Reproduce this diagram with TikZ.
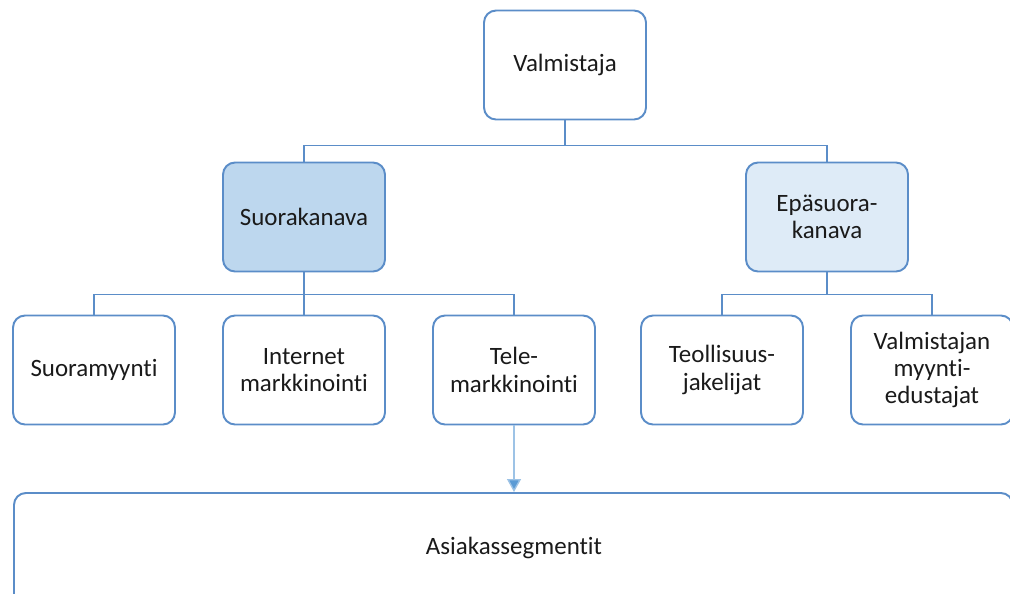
\documentclass[tikz,border=0pt]{standalone}
\usepackage{fontspec}
\setmainfont[Ligatures={NoCommon}]{Carlito}
\usepackage{xcolor}
\definecolor{boxline}{HTML}{5B8DC8}
\definecolor{fillmid}{HTML}{BDD7EE}
\definecolor{filllight}{HTML}{DEEBF7}
\definecolor{arrowline}{HTML}{9DC3E6}
\definecolor{arrowhead}{HTML}{5B9BD5}
\definecolor{textdark}{HTML}{1A1A1A}
\usetikzlibrary{arrows.meta}

\begin{document}
\begin{tikzpicture}[
    x=0.02cm, y=-0.02cm,
    card/.style={rectangle, rounded corners=0.24cm, draw=boxline, fill=white, text=textdark,
      minimum width=3.24cm, minimum height=2.18cm, align=center,
      font=\fontsize{14.2}{15.5}\selectfont, line width=1.1pt},
    link/.style={draw=boxline, line width=0.9pt},
  ]
    \useasboundingbox (0,0) rectangle (1010,593);
    \clip (0,0) rectangle (1010,593);
    % top level
    \node[card] (valm) at (565,65) {Valmistaja};
    % channels
    \node[card, fill=fillmid] (suora) at (304,217) {Suorakanava};
    \node[card, fill=filllight] (epasuora) at (827,217) {Epäsuora-\\kanava};
    % direct channel forms
    \node[card] (myynti) at (94,370) {Suoramyynti};
    \node[card] (netti) at (304,370) {Internet\\markkinointi};
    \node[card] (tele) at (514,370) {Tele-\\markkinointi};
    % indirect channel forms
    \node[card] (jakelu) at (722,370) {Teollisuus-\\jakelijat};
    \node[card] (edustaja) at (932,370) {Valmistajan\\myynti-\\edustajat};
    % customer segments, runs past the lower edge
    \node[card, minimum width=19.98cm, minimum height=2.8cm, anchor=north west] (segm) at (13,492) {};
    \node[text=textdark, font=\fontsize{14.2}{15.5}\selectfont] (segmtext) at (514,548) {Asiakassegmentit};
    % tree connectors
    \draw[link] (valm.south) -- ++(0,25) -| (suora.north);
    \draw[link] (valm.south) -- ++(0,25) -| (epasuora.north);
    \draw[link] (suora.south) -- ++(0,22) -| (myynti.north);
    \draw[link] (suora.south) -- (netti.north);
    \draw[link] (suora.south) -- ++(0,22) -| (tele.north);
    \draw[link] (epasuora.south) -- ++(0,22) -| (jakelu.north);
    \draw[link] (epasuora.south) -- ++(0,22) -| (edustaja.north);
    \draw[-{Triangle[length=0.26cm, width=0.28cm, fill=arrowhead]}, draw=arrowline, line width=0.8pt]
      (tele.south) -- (tele.south |- segm.north);
  \end{tikzpicture}
\end{document}
